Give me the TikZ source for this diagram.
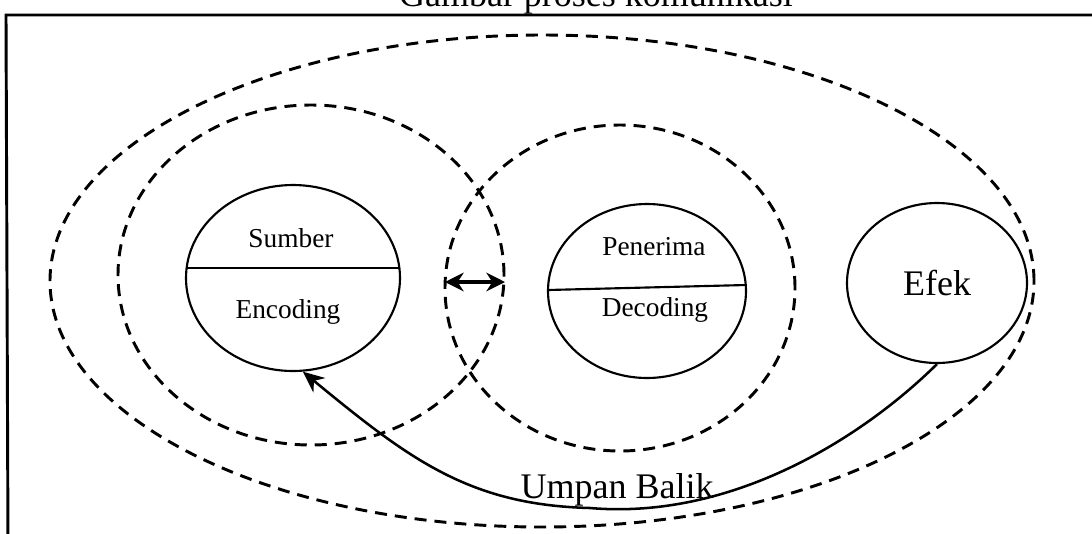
\documentclass[tikz,border=0pt]{standalone}
\usepackage{fontspec}
\setmainfont{Liberation Serif}
\usetikzlibrary{shapes.geometric,arrows.meta}
\begin{document}
\begin{tikzpicture}[x=0.75pt,y=-0.75pt,
  dashring/.style={draw, ellipse, dash pattern=on 9pt off 6pt, line width=2.2pt, inner sep=0pt},
  solidring/.style={draw, ellipse, line width=1.6pt, inner sep=0pt},
  lbl/.style={font=\fontsize{20.5}{22}\selectfont, inner sep=0pt},
  biglbl/.style={font=\fontsize{27}{30}\selectfont, inner sep=0pt},
  frameline/.style={line width=2.2pt}
]
\useasboundingbox (0,0) rectangle (1092,533);
% frame
\coordinate (fl) at (6,15);
\coordinate (fr) at (1100,15);
\coordinate (fb) at (8,545);
\draw[frameline] (fr) -- (fl) -- (fb);
% clipped title
\node[biglbl, anchor=base] (title) at (596,6) {Gambar proses komunikasi};
% dashed rings
\node[dashring, minimum width=738pt, minimum height=369pt] (outer) at (542,281) {};
\node[dashring, minimum width=289.5pt, minimum height=255pt] (leftring) at (311,275) {};
\node[dashring, minimum width=262.5pt, minimum height=244.5pt] (rightring) at (620,288) {};
% solid circles
\node[solidring, minimum width=160.5pt, minimum height=139.5pt] (sumber) at (293,278) {};
\draw[line width=1.6pt] ([shift={(-106.4,-10)}]sumber.center) -- ([shift={(106.4,-10)}]sumber.center);
\node[lbl] (tsumber) at (291,238) {Sumber};
\node[lbl] (tenc) at (288,312) {Encoding};
\node[solidring, minimum width=148.5pt, minimum height=130.5pt] (penerima) at (647,291) {};
\draw[line width=1.6pt] ([shift={(-99,-1)}]penerima.center) -- ([shift={(99,-6)}]penerima.center);
\node[lbl] (tpen) at (654,247) {Penerima};
\node[lbl] (tdec) at (655,310) {Decoding};
\node[solidring, minimum width=135pt, minimum height=120pt, biglbl] (efek) at (937,283) {Efek};
% double arrow
\coordinate (da) at (445,282);
\coordinate (db) at (505,282);
\draw[{Stealth[length=14pt,width=14pt]}-{Stealth[length=14pt,width=14pt]}, line width=2.4pt] (da) -- (db);
% feedback
\coordinate (fbmid) at (590,508);
\draw[line width=1.9pt, -{Stealth[length=16pt,width=14pt]}]
  (efek.south) .. controls (860,440) and (730,520) .. (fbmid)
  .. controls (470,505) and (410,460) .. (sumber.-84);
\node[biglbl, anchor=base] (umpan) at (617,498) {Umpan Balik};
\end{tikzpicture}
\end{document}
